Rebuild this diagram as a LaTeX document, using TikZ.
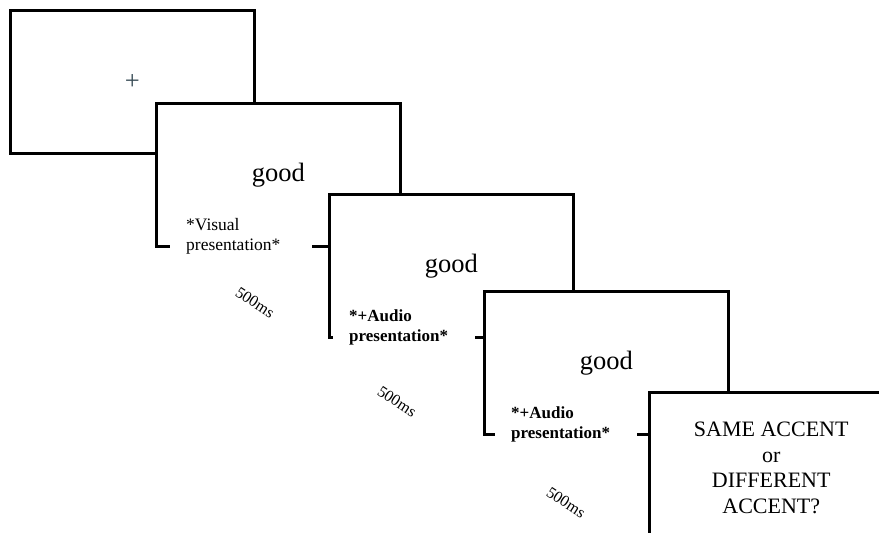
\documentclass[tikz,border=0pt]{standalone}
\usepackage{fontspec}
\setmainfont{Liberation Serif}
\usetikzlibrary{calc}
\definecolor{crossgray}{RGB}{55,75,85}
\begin{document}
\begin{tikzpicture}[
    x=1pt,y=-1pt,
    screen/.style={rectangle, draw, line width=2.5pt, fill=white, anchor=north west,
        minimum width=244pt, minimum height=143pt, inner sep=0pt,
        font=\fontsize{26.5}{30}\selectfont},
    caption/.style={fill=white, anchor=north west, align=left, text width=110pt,
        inner xsep=16pt, inner ysep=4pt, font=\fontsize{17.5}{20}\selectfont},
    delay/.style={rotate=-33, font=\fontsize{16}{18}\selectfont}
    ]
  \useasboundingbox (0,0) rectangle (879,533);
  \clip (0,0) rectangle (879,533);
  % fixation
  \node [screen] (s1) at (9,9) {\textcolor{crossgray}{+}};
  % visual only
  \node [screen] (s2) at (155,102) {good};
  \node [caption] (c2) at ($(s2.south west)+(15,-33)$) {*Visual\\presentation*};
  \node [delay] (d2) at ($(s2.south west)+(100,55)$) {500ms};
  % first audio
  \node [screen] (s3) at (328,193) {good};
  \node [caption, font=\fontsize{17}{20}\selectfont\bfseries] (c3) at ($(s3.south west)+(5,-33)$) {*+Audio\\presentation*};
  \node [delay] (d3) at ($(s3.south west)+(69,63)$) {500ms};
  % second audio
  \node [screen] (s4) at (483,290) {good};
  \node [caption, font=\fontsize{17}{20}\selectfont\bfseries] (c4) at ($(s4.south west)+(12,-33)$) {*+Audio\\presentation*};
  \node [delay] (d4) at ($(s4.south west)+(83,67)$) {500ms};
  % response
  \node [screen] (s5) at (648,391) {};
  \node [align=center, font=\fontsize{22}{25.5}\selectfont] (q5) at ($(s5.center)+(0,4)$)
    {SAME ACCENT\\or\\DIFFERENT\\ACCENT?};
\end{tikzpicture}
\end{document}
